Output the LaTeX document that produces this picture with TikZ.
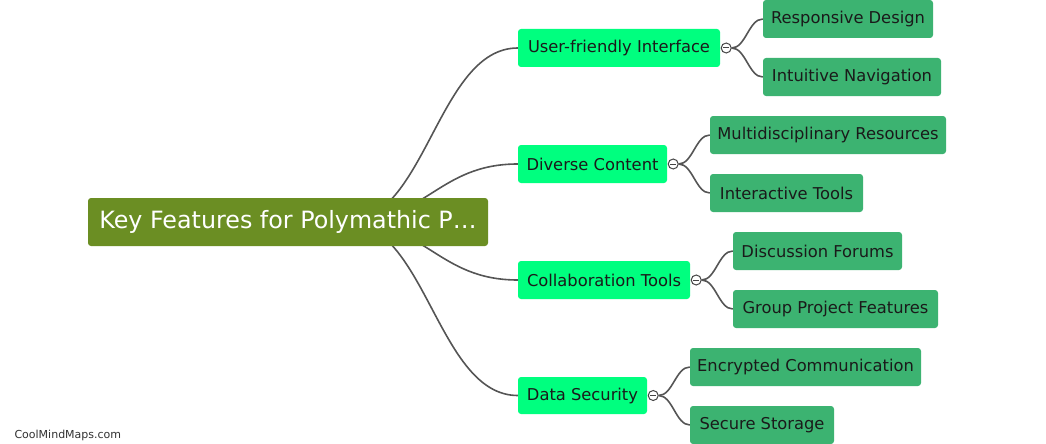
\documentclass[tikz,border=0pt]{standalone}
\usepackage{fontspec}
\setmainfont{DejaVu Sans}
\usetikzlibrary{backgrounds,calc}
\definecolor{rootc}{HTML}{6B8E23}
\definecolor{branchc}{HTML}{00FF7F}
\definecolor{leafc}{HTML}{3CB371}
\definecolor{edgec}{HTML}{555555}
\definecolor{textc}{HTML}{1A1A1A}
\tikzset{
  rootnode/.style={fill=rootc, rounded corners=3pt, text=white, font=\fontsize{23.8}{27}\selectfont, minimum height=48pt, inner sep=0pt},
  branchnode/.style={fill=branchc, rounded corners=3pt, text=textc, font=\fontsize{16.3}{19}\selectfont, minimum height=38pt, inner sep=0pt},
  leafnode/.style={fill=leafc, rounded corners=3pt, text=textc, font=\fontsize{16.3}{19}\selectfont, minimum height=38pt, inner sep=0pt},
  collapse/.style={circle, draw=edgec!80!black, fill=white, line width=1pt, minimum size=10pt, inner sep=0pt},
  edge/.style={draw=edgec, line width=1.6pt},
  minus/.style={draw=edgec!80!black, line width=1pt}
}
\begin{document}
\begin{tikzpicture}[x=1pt, y=-1pt]
\path[use as bounding box] (0,0) rectangle (1046,444);
\node[rootnode, minimum width=400pt] (root) at (288,222) {Key Features for Polymathic P…};
\node[branchnode, minimum width=202pt] (ufi) at (619,48) {User-friendly Interface};
\node[branchnode, minimum width=149pt] (dc) at (592.5,164) {Diverse Content};
\node[branchnode, minimum width=172pt] (ct) at (604,280) {Collaboration Tools};
\node[branchnode, minimum width=129pt, minimum height=37pt] (ds) at (582.5,395.5) {Data Security};
\node[leafnode, minimum width=170pt] (rd) at (848,19) {Responsive Design};
\node[leafnode, minimum width=178pt] (inav) at (852,77) {Intuitive Navigation};
\node[leafnode, minimum width=236pt] (mr) at (828,135) {Multidisciplinary Resources};
\node[leafnode, minimum width=153pt] (it) at (786.5,193) {Interactive Tools};
\node[leafnode, minimum width=169pt] (df) at (817.5,251) {Discussion Forums};
\node[leafnode, minimum width=205pt] (gp) at (835.5,309) {Group Project Features};
\node[leafnode, minimum width=231pt] (ec) at (805.5,367) {Encrypted Communication};
\node[leafnode, minimum width=144pt] (ss) at (762,425) {Secure Storage};
\node[collapse] (c1) at ($(ufi.east)+(6,0)$) {};
\node[collapse] (c2) at ($(dc.east)+(6,0)$) {};
\node[collapse] (c3) at ($(ct.east)+(6,0)$) {};
\node[collapse] (c4) at ($(ds.east)+(6,0)$) {};
\foreach \c in {c1,c2,c3,c4}{
  \draw[minus] ([xshift=-3pt]\c.center) -- ([xshift=3pt]\c.center);
}
\node[anchor=west, text=textc!90, font=\fontsize{11}{13}\selectfont] (wm) at (11,435) {CoolMindMaps.com};
\coordinate (rs) at (346,222);
\begin{scope}[on background layer]
  \foreach \b in {ufi,dc,ct,ds}{
    \draw[edge] (rs) .. controls +(80,0) and +(-80,0) .. (\b.west);
  }
  \draw[edge] (c1.east) .. controls +(14,0) and +(-14,0) .. (rd.west);
  \draw[edge] (c1.east) .. controls +(14,0) and +(-14,0) .. (inav.west);
  \draw[edge] (c2.east) .. controls +(14,0) and +(-14,0) .. (mr.west);
  \draw[edge] (c2.east) .. controls +(14,0) and +(-14,0) .. (it.west);
  \draw[edge] (c3.east) .. controls +(14,0) and +(-14,0) .. (df.west);
  \draw[edge] (c3.east) .. controls +(14,0) and +(-14,0) .. (gp.west);
  \draw[edge] (c4.east) .. controls +(14,0) and +(-14,0) .. (ec.west);
  \draw[edge] (c4.east) .. controls +(14,0) and +(-14,0) .. (ss.west);
\end{scope}
\end{tikzpicture}
\end{document}
